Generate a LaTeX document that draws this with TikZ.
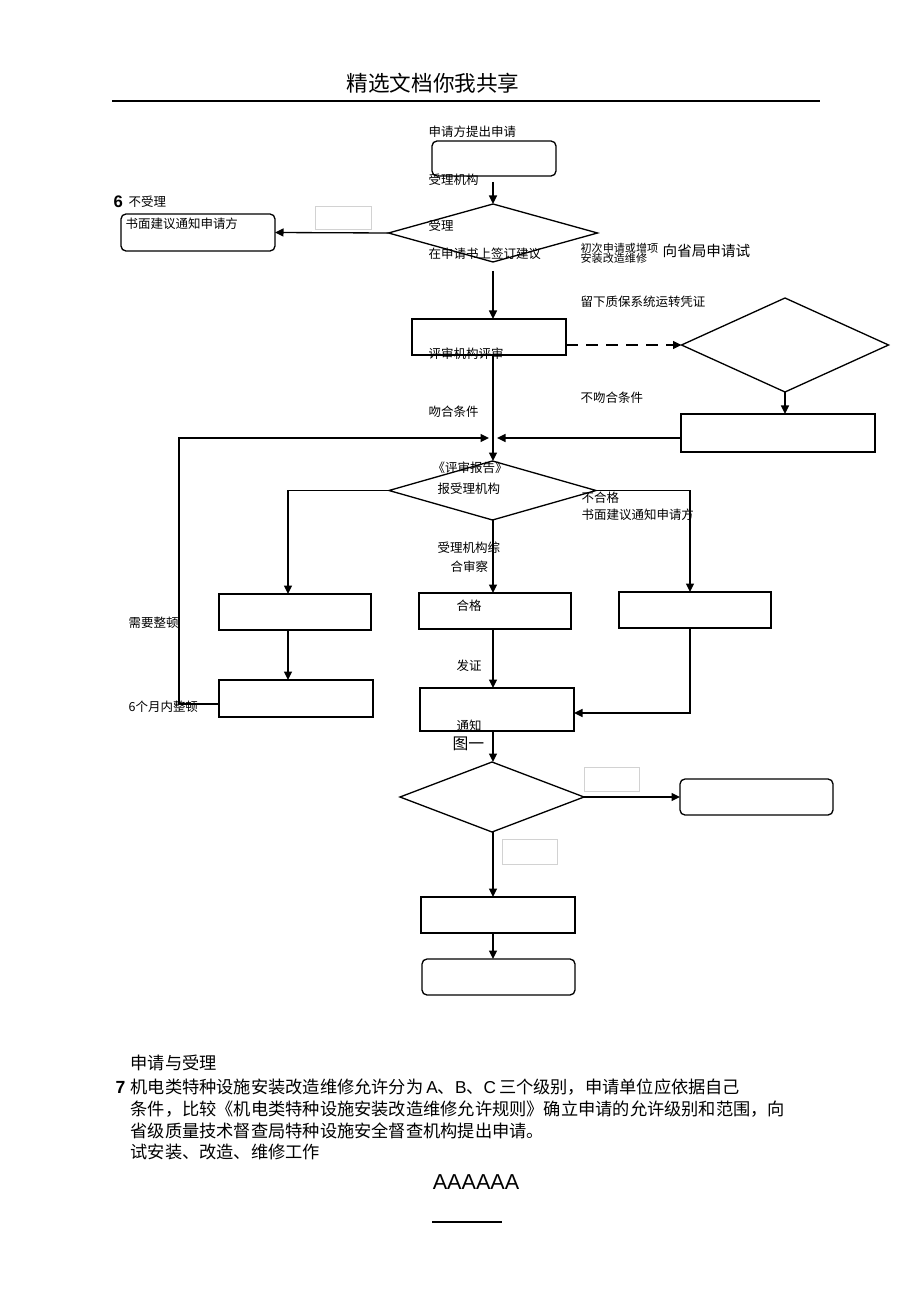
\documentclass[tikz,border=0pt]{standalone}
\usepackage{fontspec}
\newfontfamily\cjk{Noto Sans CJK SC}
\newfontfamily\arial{Liberation Sans}
\usetikzlibrary{shapes.geometric,arrows.meta}
\begin{document}
\begin{tikzpicture}[x=0.2mm, y=-0.2mm, line width=0.75pt,
    box/.style={draw, rectangle, inner sep=0pt, outer sep=0pt, minimum width=30.8mm, minimum height=7.2mm},
    rbox/.style={box, rounded corners=1mm},
    dec/.style={draw, diamond, inner sep=0pt, outer sep=0pt},
    ghost/.style={draw=gray!35, line width=0.4pt, rectangle, inner sep=0pt, outer sep=0pt},
    flow/.style={-{Triangle[length=1.7mm, width=1.6mm]}},
    lbl/.style={anchor=west, inner sep=0pt, font=\cjk\fontsize{7.1}{8}\selectfont},
    body/.style={anchor=west, inner sep=0pt, font=\cjk\fontsize{9.8}{11}\selectfont},
    num/.style={anchor=west, inner sep=0pt, font=\arial\bfseries\fontsize{9.5}{11}\selectfont}]
    \useasboundingbox (0,0) rectangle (920,1304);
    \node[inner sep=0pt, font=\cjk\fontsize{12.3}{14}\selectfont] (head) at (433,83) {精选文档你我共享};
    \draw[line width=0.9pt] (112,101) -- (820,101);

    \node[rbox, minimum width=24.8mm, minimum height=7mm] (apply) at (494,158.5) {};
    \node[dec, minimum width=41.8mm, minimum height=11.6mm] (accept) at (493,233) {};
    \node[rbox, minimum height=7.4mm] (notice) at (198,232.5) {};
    \node[ghost, minimum width=11.2mm, minimum height=4.6mm] (gapA) at (343,217.5) {};
    \node[box] (review) at (489,337) {};
    \node[dec, minimum width=41.4mm, minimum height=18.8mm] (check) at (785,345) {};
    \node[box, minimum width=38.8mm, minimum height=7.6mm] (refuse) at (778,433) {};
    \node[dec, minimum width=41.4mm, minimum height=11.8mm] (report) at (492.5,490.5) {};
    \node[box, minimum width=30.4mm] (rectify) at (295,612) {};
    \node[box, minimum width=30.4mm] (pass) at (495,611) {};
    \node[box, minimum width=30.4mm] (reject) at (695,610) {};
    \node[box, minimum height=7.4mm] (redo) at (296,698.5) {};
    \node[box, minimum height=8.6mm] (issue) at (497,709.5) {};
    \node[dec, minimum width=36.8mm, minimum height=14mm] (trial) at (492,797) {};
    \node[ghost, minimum width=11mm, minimum height=4.8mm] (gapB) at (611.5,779) {};
    \node[ghost, minimum width=11mm, minimum height=5mm] (gapC) at (529.5,851.5) {};
    \node[rbox, minimum width=30.6mm] (stop) at (756.5,797) {};
    \node[box] (work) at (498,915) {};
    \node[rbox, minimum width=30.6mm] (done) at (498.5,977) {};

    \coordinate (spine) at (493,0);
    \coordinate (joinL) at (489,438);
    \coordinate (joinR) at (497,438);
    \coordinate (loop) at (179,704);
    \coordinate (colL) at (288,0);
    \coordinate (colR) at (690,0);
    \coordinate (back) at (0,713);

    \draw[flow] (spine |- apply.south) ++(0,6) -- (spine |- accept.north);
    \draw[flow] (accept.west) -- (notice.east);
    \draw[flow] (spine |- accept.south) ++(0,9) -- (spine |- review.north);
    \draw[flow, dash pattern=on 2.4mm off 1.6mm] (review.east |- check.west) -- (check.west);
    \draw[flow] (check.south) -- (check.south |- refuse.north);
    \draw[flow] (refuse.west |- joinR) -- (joinR);
    \draw[flow] (spine |- review.south) -- (spine |- report.north);
    \draw[flow] (redo.west |- loop) -- (loop) |- (joinL);
    \draw[flow] (report.west) -| (colL |- rectify.north);
    \draw[flow] (report.east) -| (colR |- reject.north);
    \draw[flow] (spine |- report.south) -- (spine |- pass.north);
    \draw[flow] (colL |- rectify.south) -- (colL |- redo.north);
    \draw[flow] (spine |- pass.south) -- (spine |- issue.north);
    \draw[flow] (colR |- reject.south) |- (issue.east |- back);
    \draw[flow] (spine |- issue.south) -- (spine |- trial.north);
    \draw[flow] (trial.east) -- (stop.west);
    \draw[flow] (spine |- trial.south) -- (spine |- work.north);
    \draw[flow] (spine |- work.south) -- (spine |- done.north);

    \node[lbl] (tApply) at (428,132) {申请方提出申请};
    \node[lbl] (tOrgan) at (428,180) {受理机构};
    \node[num] (tSix) at (113,202) {6};
    \node[lbl] (tNo) at (128,202) {不受理};
    \node[lbl] (tNotice) at (125,224) {书面建议通知申请方};
    \node[lbl] (tAccept) at (428,226) {受理};
    \node[lbl] (tSign) at (428,254) {在申请书上签订建议};
    \node[lbl, font=\cjk\fontsize{6.3}{7}\selectfont] (tFirst) at (580,248) {初次申请或增项};
    \node[lbl, font=\cjk\fontsize{6.3}{7}\selectfont] (tFix) at (580,258) {安装改造维修};
    \node[lbl, font=\cjk\fontsize{8.3}{9}\selectfont] (tProv) at (662,251) {向省局申请试};
    \node[lbl] (tKeep) at (580,302) {留下质保系统运转凭证};
    \node[lbl] (tReview) at (428,354) {评审机构评审};
    \node[lbl] (tUnfit) at (580,398) {不吻合条件};
    \node[lbl] (tFit) at (428,412) {吻合条件};
    \node[lbl] (tReport) at (432,468) {《评审报告》};
    \node[lbl] (tSend) at (437,489) {报受理机构};
    \node[lbl] (tFail) at (581,498) {不合格};
    \node[lbl] (tNotice2) at (581,515) {书面建议通知申请方};
    \node[lbl] (tSum) at (437,548) {受理机构综};
    \node[lbl] (tSum2) at (450,567) {合审察};
    \node[lbl] (tPass) at (456,606) {合格};
    \node[lbl] (tNeed) at (128,623) {需要整顿};
    \node[lbl] (tIssue) at (456,666) {发证};
    \node[lbl] (tSix2) at (128,707) {6个月内整顿};
    \node[lbl] (tInform) at (456,726) {通知};
    \node[lbl, font=\cjk\fontsize{9}{10}\selectfont] (tFig) at (452,744) {图一};

    \node[body] (pHead) at (130,1063) {申请与受理};
    \node[num, font=\arial\bfseries\fontsize{10}{11}\selectfont] (pSeven) at (115,1087) {7};
    \node[body] (pLineA) at (130,1087) {机电类特种设施安装改造维修允许分为\,{\arial A}、{\arial B}、{\arial C}\,三个级别，申请单位应依据自己};
    \node[body] (pLineB) at (130,1109) {条件，比较《机电类特种设施安装改造维修允许规则》确立申请的允许级别和范围，向};
    \node[body] (pLineC) at (130,1131) {省级质量技术督查局特种设施安全督查机构提出申请。};
    \node[body] (pLineD) at (130,1152) {试安装、改造、维修工作};
    \node[inner sep=0pt, font=\arial\fontsize{12.3}{14}\selectfont] (pFoot) at (476,1182) {AAAAAA};
    \draw[line width=0.6pt] (432,1222) -- (502,1222);
\end{tikzpicture}
\end{document}
